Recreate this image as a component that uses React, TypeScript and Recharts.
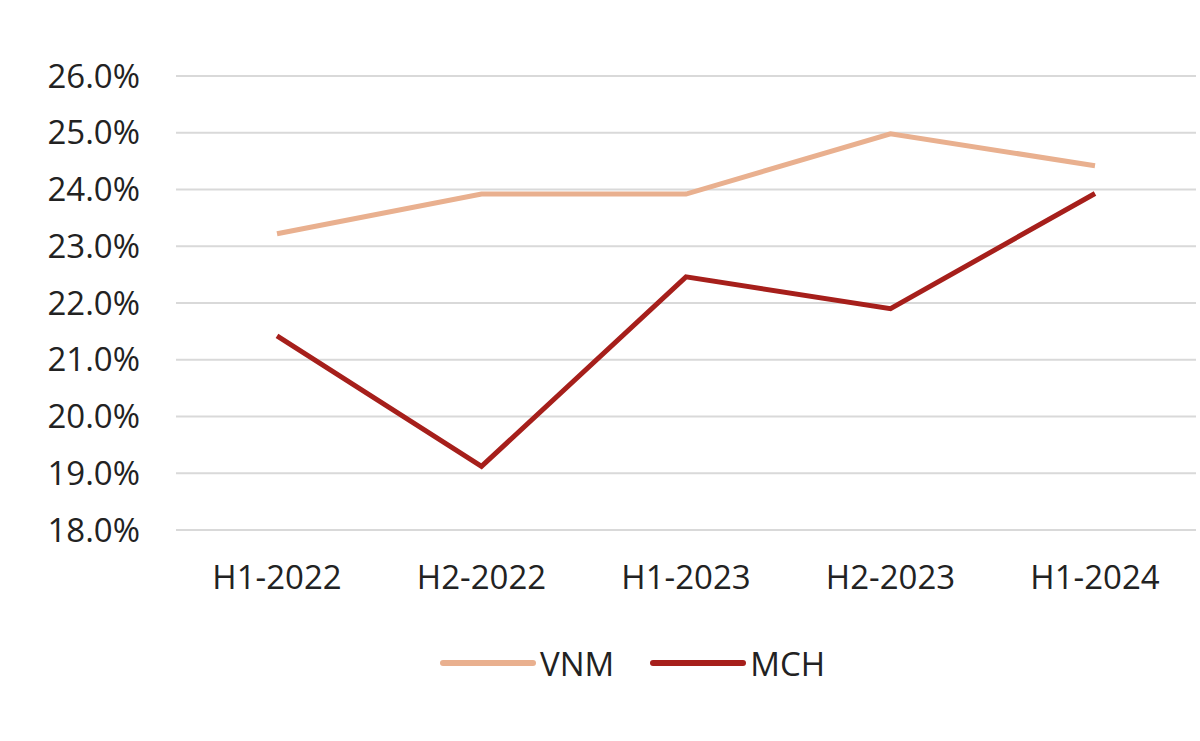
import React from "react";
import { LineChart, Line, XAxis, YAxis, CartesianGrid, Legend } from "recharts";

const periods = ["H1-2022", "H2-2022", "H1-2023", "H2-2023", "H1-2024"];
const vnm = [23.22, 23.92, 23.92, 24.98, 24.42];
const mch = [21.42, 19.12, 22.46, 21.9, 23.93];
const yTicks = [18, 19, 20, 21, 22, 23, 24, 25, 26];

const VNM_COLOR = "#e9b08f";
const MCH_COLOR = "#a61f1b";
const FONT = "'Open Sans', sans-serif";

const data = periods.map((p, i) => ({ period: p, VNM: vnm[i], MCH: mch[i] }));

function LegendRow() {
  const items = [
    { name: "VNM", color: VNM_COLOR },
    { name: "MCH", color: MCH_COLOR },
  ];
  return (
    <div
      style={{
        height: 100,
        boxSizing: "border-box",
        paddingTop: 26,
        paddingLeft: 440,
        display: "flex",
        alignItems: "center",
        fontFamily: FONT,
        fontSize: 33,
        color: "#222",
      }}
    >
      {items.map((it) => (
        <div key={it.name} style={{ display: "flex", alignItems: "center", marginRight: 36 }}>
          <svg width={96} height={10}>
            <line x1={3} y1={5} x2={93} y2={5} stroke={it.color} strokeWidth={6} strokeLinecap="round" />
          </svg>
          <span style={{ marginLeft: 4 }}>{it.name}</span>
        </div>
      ))}
    </div>
  );
}

export default function App() {
  return (
    <div style={{ position: "absolute", left: 0, top: 0, width: 1200, height: 741, background: "#fff" }}>
      <LineChart width={1200} height={741} data={data} margin={{ top: 76, right: 4, bottom: 41, left: 0 }}>
        <CartesianGrid vertical={false} stroke="#d9d9d9" strokeWidth={2} />
        <XAxis
          dataKey="period"
          height={70}
          padding={{ left: 101, right: 101 }}
          axisLine={false}
          tickLine={false}
          tickSize={0}
          tickMargin={36}
          tick={{ fill: "#222", fontSize: 33, fontFamily: FONT }}
        />
        <YAxis
          width={176}
          domain={[18, 26]}
          ticks={yTicks}
          axisLine={false}
          tickLine={false}
          tickSize={0}
          tickMargin={36}
          tickFormatter={(v: number) => v.toFixed(1) + "%"}
          tick={{ fill: "#222", fontSize: 33, fontFamily: FONT }}
        />
        <Legend verticalAlign="bottom" content={() => <LegendRow />} />
        <Line dataKey="VNM" stroke={VNM_COLOR} strokeWidth={5} dot={false} isAnimationActive={false} />
        <Line dataKey="MCH" stroke={MCH_COLOR} strokeWidth={5} dot={false} isAnimationActive={false} />
      </LineChart>
    </div>
  );
}
